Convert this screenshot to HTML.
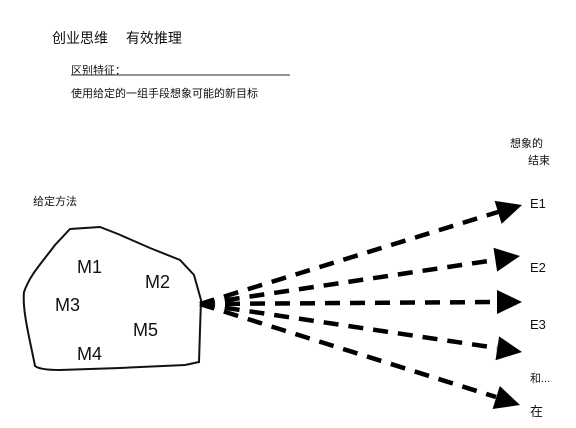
<!DOCTYPE html>
<html><head><meta charset="utf-8"><style>
body{margin:0;width:576px;height:428px;background:#fff;overflow:hidden;font-family:"Liberation Sans","Noto Sans CJK SC",sans-serif;}
</style></head><body>
<svg width="576" height="428" xmlns="http://www.w3.org/2000/svg" style="position:absolute;left:0;top:0">
<g font-family="'Liberation Sans','Noto Sans CJK SC',sans-serif" fill="#111">
<text x="52" y="43" font-size="14">创业思维　 有效推理</text>
<text x="71" y="74" font-size="11">区别特征：</text>
<line x1="71" y1="75" x2="290" y2="75" stroke="#555" stroke-width="1.2"/>
<text x="71" y="97" font-size="11">使用给定的一组手段想象可能的新目标</text>
<text x="510" y="147" font-size="11">想象的</text>
<text x="528" y="164" font-size="11">结束</text>
<text x="33" y="205" font-size="11">给定方法</text>
<text x="77" y="273" font-size="18">M1</text>
<text x="145" y="288" font-size="18">M2</text>
<text x="55" y="311" font-size="18">M3</text>
<text x="133" y="336" font-size="18">M5</text>
<text x="77" y="360" font-size="18">M4</text>
<text x="530" y="208" font-size="13">E1</text>
<text x="530" y="272" font-size="13">E2</text>
<text x="530" y="329" font-size="13">E3</text>
<text x="530" y="382" font-size="11">和...</text>
<text x="530" y="416" font-size="13">在</text>
</g>
<path d="M35,366 C30,340 22,310 24,292 C30,275 40,265 55,245 L70,229 L100,227 L118,234 L150,248 L180,260 L194,275 L201,300 L200,330 L199,362 L185,365 L120,368 L60,370 Q40,370 35,366 Z" fill="none" stroke="#111" stroke-width="2"/>
<g stroke="#000" stroke-width="4.5" stroke-dasharray="15,10" fill="none">
<line x1="200" y1="304" x2="498" y2="212"/>
<line x1="200" y1="304" x2="495" y2="260"/>
<line x1="200" y1="304" x2="497" y2="302"/>
<line x1="200" y1="304" x2="497" y2="348"/>
<line x1="200" y1="304" x2="496" y2="397"/>
</g>
<g fill="#000">
<polygon points="522,205 501.6,223.9 494.6,200.9"/>
<polygon points="520,256 497.1,271.6 493.5,247.8"/>
<polygon points="522,302 497,314 497,290"/>
<polygon points="522,352 495.5,360.2 499.1,336.4"/>
<polygon points="520,405 492.6,409 499.8,386"/>
</g>
</svg>
</body></html>
